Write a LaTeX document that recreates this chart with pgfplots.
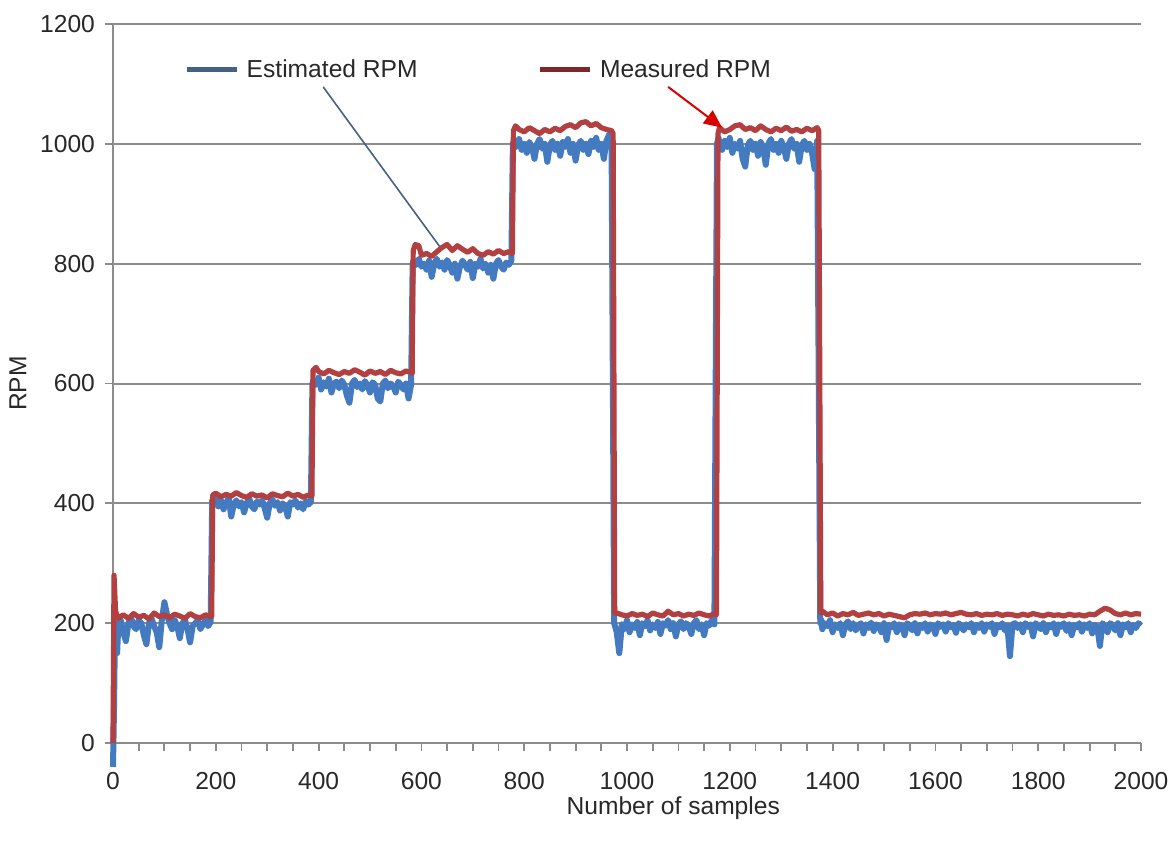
\documentclass[border=0pt]{standalone}
\usepackage{pgfplots}
\pgfplotsset{compat=1.18}
\usepackage{fontspec}
\setmainfont{Liberation Sans}
\usetikzlibrary{arrows.meta}
\definecolor{estblue}{RGB}{68,122,192}
\definecolor{measred}{RGB}{178,64,64}
\definecolor{legblue}{RGB}{70,98,130}
\definecolor{legred}{RGB}{125,40,40}
\definecolor{gridgray}{RGB}{140,140,140}
\definecolor{txt}{RGB}{40,40,40}
\begin{document}
\begin{tikzpicture}
\begin{axis}[
  scale only axis, width=514pt, height=359.5pt,
  at={(0,0)}, anchor=south west,
  xmin=0, xmax=2000, ymin=0, ymax=1200,
  clip=false,
  axis x line*=bottom, axis y line*=left,
  axis line style={-, gridgray, line width=1pt},
  xtick={0,200,...,2000}, minor x tick num=3,
  ytick={0,200,...,1200},
  tick align=outside, xtick pos=bottom, ytick pos=left,
  major tick length=4pt, minor tick length=4pt,
  tick style={gridgray, line width=0.9pt},
  ymajorgrids, major grid style={gridgray, line width=1pt},
  /pgf/number format/assume math mode=true,
  /pgf/number format/1000 sep={},
  scaled ticks=false,
  ticklabel style={font=\fontsize{12.3}{14}\selectfont, text=txt},
  xticklabel style={yshift=-7pt},
  yticklabel style={xshift=-1.5pt},
  xlabel={Number of samples},
  ylabel={RPM},
  label style={font=\fontsize{12.3}{14}\selectfont, text=txt},
  xlabel style={at={(axis description cs:0.545,-0.09)}, anchor=center},
  ylabel style={at={(axis description cs:-0.0924,0.5)}, anchor=center},
  legend columns=2,
  legend style={at={(axis cs:138,1123)}, anchor=west, draw=none, fill=none,
    inner sep=0pt, font=\fontsize{12.3}{14}\selectfont, text=txt,
    nodes={inner sep=0pt, anchor=base west},
    /tikz/every odd column/.append style={column sep=4pt},
    /tikz/every even column/.append style={column sep=60pt}},
  legend cell align=left,
  legend image code/.code={\draw[#1] (0pt,4pt) -- (25pt,4pt);},
]
\addlegendimage{legblue, line width=2.2pt}
\addlegendentry{Estimated RPM}
\addlegendimage{legred, line width=2.2pt}
\addlegendentry{Measured RPM}

% Estimated RPM
\addplot[estblue, line width=3pt, line join=round, forget plot] coordinates {
(0,-40)(2,60)(4,200)(5,165)(8,150)(10,190)(15,205)(20,185)(25,170)(30,200)(35,210)(40,195)(45,190)(50,205)(55,200)(60,180)(65,165)(70,200)(75,208)(80,195)(85,185)(90,160)(95,205)(100,235)(105,215)(110,200)(115,190)(120,205)(125,195)(130,175)(135,200)(140,205)(145,190)(150,168)(155,195)(160,200)(165,205)(170,190)(175,198)(180,205)(185,195)(190,202)
(193,405)(195,400)(200,410)(205,395)(210,405)(215,390)(220,400)(225,410)(230,378)(235,398)(240,405)(245,395)(250,402)(255,385)(260,400)(265,408)(270,395)(275,390)(280,403)(285,398)(290,405)(295,392)(300,376)(305,400)(310,407)(315,396)(320,402)(325,388)(330,400)(335,395)(340,378)(345,402)(350,398)(355,405)(360,393)(365,400)(370,390)(375,404)(380,398)(385,402)
(388,600)(390,605)(395,598)(400,610)(405,590)(410,602)(415,595)(420,608)(425,585)(430,600)(435,603)(440,592)(445,605)(450,598)(455,580)(460,568)(465,600)(470,606)(475,594)(480,600)(485,590)(490,604)(495,597)(500,585)(505,602)(510,598)(515,575)(520,570)(525,600)(530,605)(535,592)(540,600)(545,596)(550,585)(555,603)(560,598)(565,590)(570,600)(575,575)(580,598)
(583,800)(585,805)(590,798)(595,808)(600,795)(605,800)(610,790)(615,805)(620,778)(625,800)(630,808)(635,795)(640,802)(645,790)(650,806)(655,798)(660,785)(665,800)(670,775)(675,795)(680,805)(685,798)(690,790)(695,803)(700,776)(705,800)(710,795)(715,808)(720,792)(725,800)(730,785)(735,798)(740,775)(745,800)(750,806)(755,795)(760,790)(765,802)(770,798)(775,805)
(778,1000)(780,1005)(785,995)(790,1008)(795,990)(800,1000)(805,985)(810,1003)(815,995)(820,975)(825,1000)(830,1008)(835,992)(840,1000)(845,970)(850,998)(855,1005)(860,990)(865,1000)(870,980)(875,1003)(880,995)(885,1008)(890,985)(895,1000)(900,972)(905,998)(910,1005)(915,990)(920,1000)(925,983)(930,1005)(935,995)(940,1010)(945,990)(950,1000)(955,975)(960,1005)(965,1015)(970,1000)
(975,200)(980,185)(985,150)(990,198)(995,190)(1000,205)(1005,185)(1010,198)(1015,192)(1020,202)(1025,180)(1030,200)(1035,195)(1040,205)(1045,188)(1050,198)(1055,192)(1060,202)(1065,182)(1070,200)(1075,196)(1080,205)(1085,190)(1090,200)(1095,178)(1100,198)(1105,203)(1110,190)(1115,200)(1120,195)(1125,182)(1130,200)(1135,205)(1140,190)(1145,198)(1150,180)(1155,200)(1160,196)(1165,205)(1170,198)
(1175,1000)(1178,1010)(1180,1000)(1185,990)(1190,1005)(1195,995)(1200,1010)(1205,985)(1210,1000)(1215,992)(1220,1005)(1225,975)(1230,962)(1235,998)(1240,1005)(1245,990)(1250,1000)(1255,980)(1260,1003)(1265,995)(1270,965)(1275,1000)(1280,1008)(1285,990)(1290,1000)(1295,985)(1300,1005)(1305,995)(1310,975)(1315,1000)(1320,1008)(1325,992)(1330,1000)(1335,970)(1340,998)(1345,1005)(1350,990)(1355,1000)(1360,985)(1365,958)(1370,1005)
(1376,200)(1378,205)(1380,190)(1385,200)(1390,195)(1395,205)(1400,185)(1405,198)(1410,192)(1415,200)(1420,180)(1425,198)(1430,203)(1435,190)(1440,200)(1445,188)(1450,196)(1455,200)(1460,183)(1465,198)(1470,192)(1475,201)(1480,187)(1485,198)(1490,195)(1495,185)(1500,200)(1505,172)(1510,197)(1515,193)(1520,200)(1525,185)(1530,198)(1535,195)(1540,180)(1545,200)(1550,196)(1555,188)(1560,200)(1565,183)(1570,197)(1575,192)(1580,200)(1585,186)(1590,198)(1595,195)(1600,182)(1605,200)(1610,194)(1615,198)(1620,186)(1625,200)(1630,193)(1635,197)(1640,184)(1645,200)(1650,195)(1655,188)(1660,198)(1665,193)(1670,200)(1675,185)(1680,197)(1685,192)(1690,200)(1695,186)(1700,198)(1705,194)(1710,200)(1715,182)(1720,197)(1725,193)(1730,200)(1735,188)(1740,196)(1745,145)(1750,198)(1755,200)(1760,192)(1765,198)(1770,185)(1775,200)(1780,194)(1785,198)(1790,178)(1795,200)(1800,195)(1805,190)(1810,200)(1815,185)(1820,197)(1825,193)(1830,200)(1835,182)(1840,198)(1845,194)(1850,200)(1855,187)(1860,198)(1865,180)(1870,197)(1875,193)(1880,200)(1885,186)(1890,198)(1895,192)(1900,200)(1905,183)(1910,197)(1915,194)(1920,162)(1925,200)(1930,195)(1935,185)(1940,200)(1945,196)(1950,188)(1955,200)(1960,180)(1965,198)(1970,193)(1975,200)(1980,185)(1985,197)(1990,192)(1995,200)(2000,196)
};

% Measured RPM
\addplot[measred, line width=2.6pt, line join=round, forget plot] coordinates {
(0,0)(2,280)(5,220)(10,208)(20,214)(30,208)(40,216)(50,210)(60,213)(70,207)(80,217)(90,211)(100,214)(110,209)(120,215)(130,212)(140,208)(150,216)(160,211)(170,209)(180,214)(190,210)(192,212)
(194,414)(200,417)(210,411)(220,415)(230,412)(240,418)(250,413)(260,410)(270,416)(280,412)(290,414)(300,409)(310,416)(320,413)(330,411)(340,417)(350,412)(360,415)(370,410)(380,414)(387,412)
(389,622)(395,627)(400,620)(410,616)(420,622)(430,618)(440,615)(450,620)(460,617)(470,623)(480,619)(490,614)(500,621)(510,617)(520,620)(530,615)(540,622)(550,618)(560,616)(570,621)(580,618)(582,617)
(584,822)(588,832)(595,830)(600,814)(610,817)(620,812)(630,820)(640,827)(650,832)(660,822)(670,830)(680,824)(690,819)(700,825)(710,817)(720,814)(730,820)(740,816)(750,822)(760,817)(770,820)(777,817)
(779,1022)(783,1030)(790,1024)(800,1020)(810,1027)(820,1022)(830,1017)(840,1024)(850,1020)(860,1026)(870,1022)(880,1029)(890,1032)(900,1027)(910,1035)(920,1037)(930,1030)(940,1034)(950,1027)(960,1024)(970,1022)(973,1017)
(976,217)(980,217)(990,214)(1000,212)(1010,216)(1020,213)(1030,215)(1040,211)(1050,217)(1060,214)(1070,212)(1080,220)(1090,214)(1100,216)(1110,212)(1120,215)(1130,213)(1140,217)(1150,214)(1160,212)(1170,216)(1174,214)
(1177,1017)(1180,1027)(1190,1020)(1200,1024)(1210,1030)(1220,1032)(1230,1024)(1240,1027)(1250,1022)(1260,1030)(1270,1024)(1280,1020)(1290,1026)(1300,1022)(1310,1028)(1320,1021)(1330,1024)(1340,1020)(1350,1026)(1360,1022)(1370,1027)(1373,1022)
(1377,217)(1380,220)(1390,214)(1400,217)(1410,212)(1420,216)(1430,214)(1440,218)(1450,213)(1460,215)(1470,217)(1480,214)(1490,216)(1500,212)(1510,215)(1520,213)(1530,211)(1540,209)(1550,214)(1560,216)(1570,215)(1580,217)(1590,214)(1600,216)(1610,215)(1620,217)(1630,214)(1640,216)(1650,218)(1660,215)(1670,214)(1680,216)(1690,213)(1700,215)(1710,214)(1720,216)(1730,213)(1740,215)(1750,214)(1760,212)(1770,215)(1780,213)(1790,216)(1800,214)(1810,212)(1820,215)(1830,213)(1840,214)(1850,212)(1860,215)(1870,213)(1880,214)(1890,212)(1900,215)(1910,214)(1920,220)(1930,225)(1940,222)(1950,216)(1960,214)(1970,217)(1980,214)(1990,216)(2000,215)
};

% annotation lines from the legend
\draw[legblue, line width=0.8pt] (axis cs:409,1095) -- (axis cs:636,828);
\draw[red!85!black, line width=1pt, -{Triangle[length=9pt,width=8pt]}] (axis cs:1080,1095) -- (axis cs:1185,1027);
\end{axis}
\pgfresetboundingbox
\path (-56.5pt,-50pt) rectangle (531.5pt,371.5pt);
\end{tikzpicture}
\end{document}
